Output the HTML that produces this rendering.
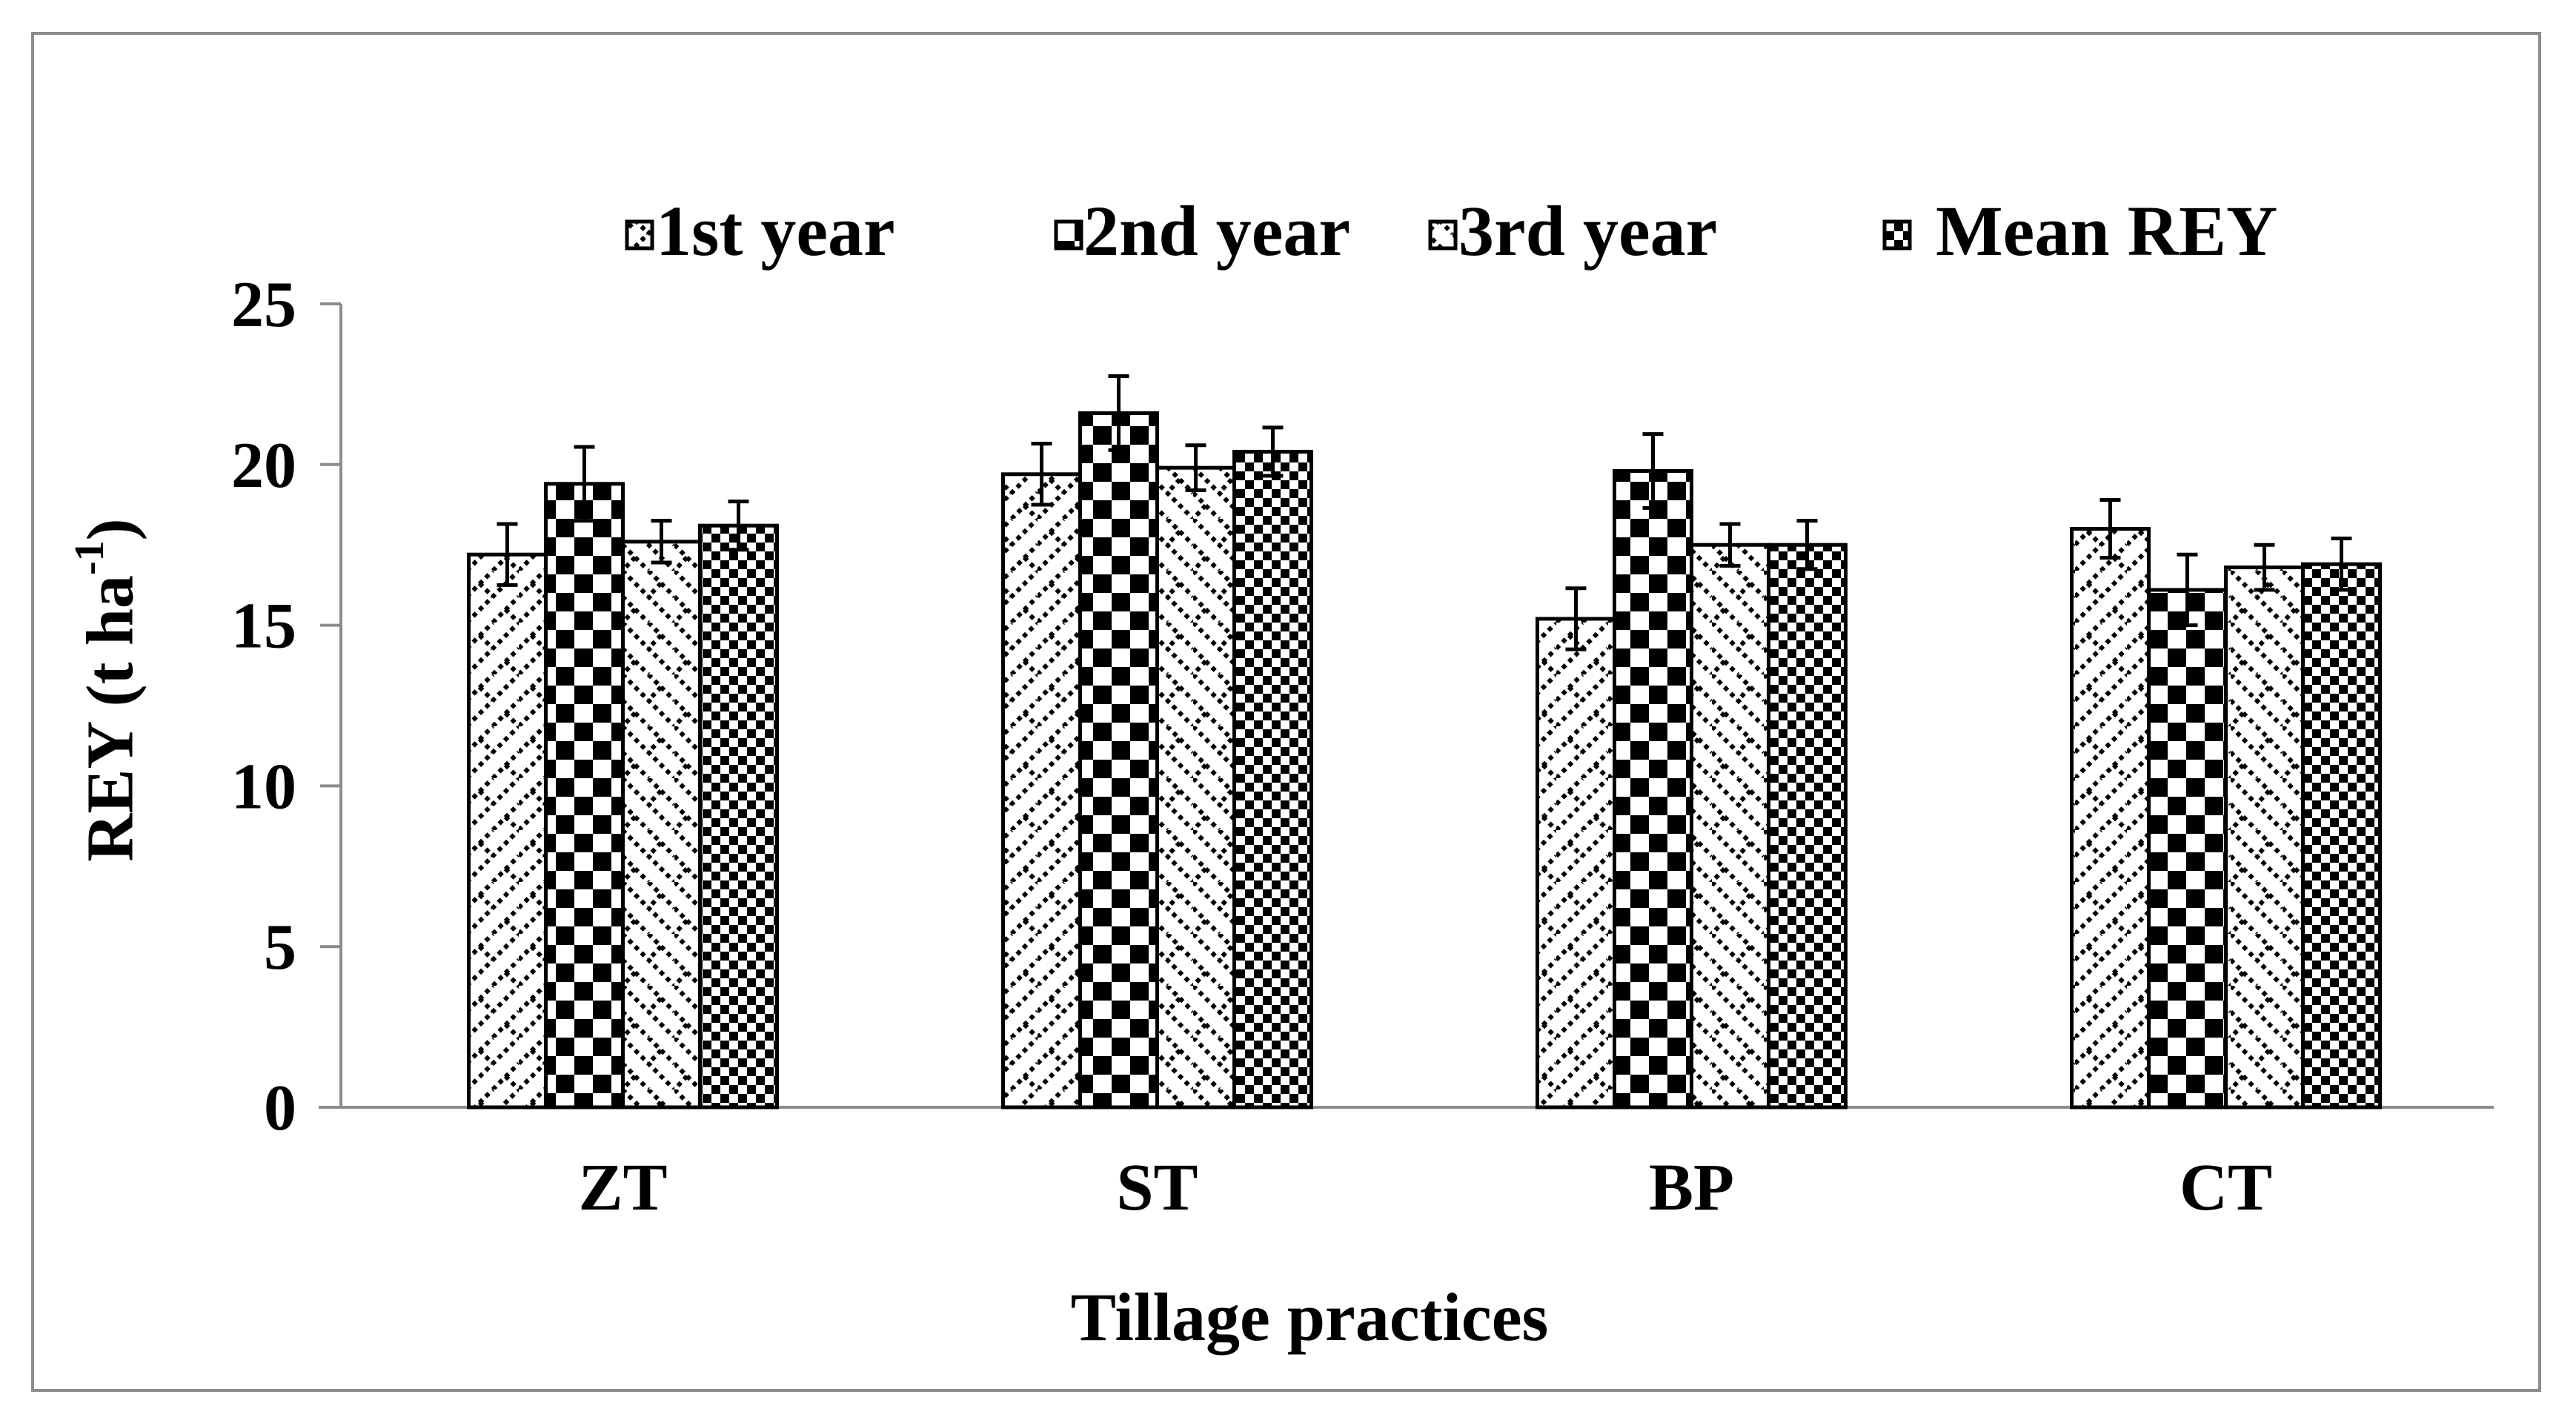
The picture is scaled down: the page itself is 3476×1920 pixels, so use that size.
<!DOCTYPE html>
<html><head><meta charset="utf-8"><style>
html,body{margin:0;padding:0;background:#fff;}
svg{display:block;}
text{font-family:"Liberation Serif",serif;font-weight:bold;fill:#000;}
</style></head><body>
<svg id="chart" width="3476" height="1920" viewBox="0 0 3476 1920" xmlns="http://www.w3.org/2000/svg">
<defs>
<pattern id="p1" width="70" height="70" patternUnits="userSpaceOnUse">
<rect width="70" height="70" fill="#fff"/>
<path d="M0 70 L70 0 M35 70 L70 35 M0 35 L35 0" stroke="#000" stroke-width="6" stroke-dasharray="6 6" fill="none"/>
<path d="M17 17 L35 35 M52 52 L70 70" stroke="#000" stroke-width="6" stroke-dasharray="6 6"/>
</pattern>
<pattern id="p2" width="50" height="50" patternUnits="userSpaceOnUse">
<rect width="50" height="50" fill="#fff"/>
<rect x="0" y="0" width="25" height="25" fill="#000"/>
<rect x="25" y="25" width="25" height="25" fill="#000"/>
</pattern>
<pattern id="p3" width="70" height="70" patternUnits="userSpaceOnUse">
<rect width="70" height="70" fill="#fff"/>
<path d="M0 0 L70 70 M35 0 L70 35 M0 35 L35 70" stroke="#000" stroke-width="6" stroke-dasharray="6 6" fill="none"/>
<path d="M52 17 L35 35 M17 52 L0 70" stroke="#000" stroke-width="6" stroke-dasharray="6 6"/>
</pattern>
<pattern id="p4" width="24" height="24" patternUnits="userSpaceOnUse">
<rect width="24" height="24" fill="#fff"/>
<rect x="0" y="0" width="12" height="12" fill="#000"/>
<rect x="12" y="12" width="12" height="12" fill="#000"/>
</pattern>
</defs>
<rect x="44" y="45" width="3383" height="1831" fill="none" stroke="#8c8c8c" stroke-width="4"/>
<g id="axes"></g>
<g id="bars"></g>
<g id="legend"></g>
<text x="158" y="931" font-size="90" text-anchor="middle" transform="rotate(-90 158 931)" dominant-baseline="middle">REY (t ha<tspan font-size="56" dy="-32">-1</tspan><tspan dy="32">)</tspan></text>
<text x="1767" y="1808" font-size="92" text-anchor="middle">Tillage practices</text>
</svg>
<script>
const categories = ["ZT","ST","BP","CT"];
const seriesNames = ["1st year","2nd year","3rd year","Mean REY"];
const year1 = [17.2,19.7,15.2,18.0];
const year2 = [19.4,21.6,19.8,16.1];
const year3 = [17.6,19.9,17.5,16.8];
const meanRey = [18.1,20.4,17.5,16.9];
const err1 = [0.95,0.95,0.95,0.9];
const err2 = [1.15,1.15,1.15,1.1];
const err3 = [0.65,0.7,0.65,0.7];
const errMean = [0.75,0.75,0.75,0.8];
const yTicks = [0,5,10,15,20,25];

const NS="http://www.w3.org/2000/svg";
const series=[year1,year2,year3,meanRey];
const errs=[err1,err2,err3,errMean];
const fills=["url(#p1)","url(#p2)","url(#p3)","url(#p4)"];
const yTop=410, yBot=1494, yMax=25, xLeft=460, xRight=3365, bandStart=480, band=721, barW=104;
function yS(v){return yBot-(v/yMax)*(yBot-yTop);}
function xC(i){return bandStart+band*(i+0.5);}
function mk(tag,attrs,parent){const e=document.createElementNS(NS,tag);for(const k in attrs)e.setAttribute(k,attrs[k]);parent.appendChild(e);return e;}
const axes=document.getElementById('axes'),bars=document.getElementById('bars'),legend=document.getElementById('legend');
let yl=mk('line',{x1:xLeft,y1:yTop,x2:xLeft,y2:yBot,stroke:'#8c8c8c','stroke-width':4},axes);


let xl=mk('line',{x1:xLeft-30,y1:yBot,x2:xRight,y2:yBot,stroke:'#8c8c8c','stroke-width':4},axes);


yTicks.forEach(t=>{
 const y=yS(t);
 let tk=mk('line',{x1:xLeft-28,y1:y,x2:xLeft,y2:y,stroke:'#8c8c8c','stroke-width':4},axes);
 
 
 let tl=mk('text',{x:400,y:y+30,'font-size':88,'text-anchor':'end'},axes);
 tl.textContent=t;
 
 
});
categories.forEach((c,i)=>{
 let cl=mk('text',{x:xC(i),y:1632,'font-size':90,'text-anchor':'middle'},axes);
 cl.textContent=c;
 
 
 series.forEach((s,j)=>{
  const x=xC(i)-2*barW+j*barW, v=s[i], y=yS(v);
  let r=mk('rect',{x:x,y:y,width:barW,height:yBot-y,fill:fills[j],stroke:'#000','stroke-width':5},bars);
  
  
  const cx=x+barW/2, e=errs[j][i];
  let eb=mk('path',{d:`M${cx} ${yS(v+e)} L${cx} ${yS(v-e)} M${cx-14} ${yS(v+e)} L${cx+14} ${yS(v+e)} M${cx-14} ${yS(v-e)} L${cx+14} ${yS(v-e)}`,stroke:'#000','stroke-width':5,fill:'none'},bars);
  
  
 });
});
const legBox=[846,1425,1930,2543], legText=[885,1462,1968,2612];
seriesNames.forEach((n,j)=>{
 let b=mk('rect',{x:legBox[j],y:299,width:34,height:36,fill:fills[j],stroke:'#000','stroke-width':5},legend);
 
 
 let t=mk('text',{x:legText[j],y:344,'font-size':96},legend);
 t.textContent=n;
 
 
});
</script>
</body></html>
